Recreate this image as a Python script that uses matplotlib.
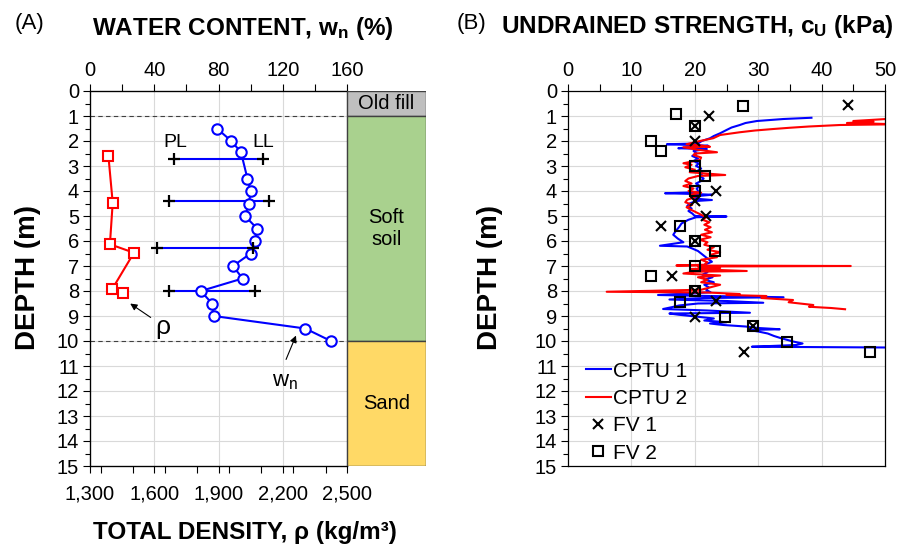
import matplotlib
matplotlib.use('Agg')
import matplotlib.pyplot as plt
from matplotlib.ticker import MultipleLocator, FixedLocator, StrMethodFormatter

plt.rcParams['font.family'] = ['Liberation Sans', 'DejaVu Sans']
plt.rcParams['mathtext.fontset'] = 'custom'
plt.rcParams['mathtext.rm'] = 'Liberation Sans'
plt.rcParams['mathtext.it'] = 'Liberation Sans'
plt.rcParams['mathtext.bf'] = 'Liberation Sans:bold'

# Water content profile (%)
wn_depth = [1.5, 2.0, 2.45, 3.5, 4.0, 4.5, 5.0, 5.5, 6.0, 6.5, 7.0, 7.5, 8.0, 8.5, 9.0, 9.5, 10.0]
wn_value = [79, 88, 94, 98, 100, 99, 96.5, 104, 103, 100, 89, 95, 69, 76, 77, 134, 150]

# Atterberg limits (%)
limit_depth = [2.7, 4.4, 6.27, 8.0]
plastic_limit = [52, 49, 41.5, 49]
liquid_limit = [107.5, 111.5, 101.7, 102.7]

# Total density (kg/m3)
rho_depth = [2.6, 4.47, 6.13, 6.47, 7.92, 8.09]
rho_value = [1386, 1406, 1393, 1505, 1404, 1456]
rho_ticks = [1300, 1600, 1900, 2200, 2500]

# Soil layers
layer_top = [0, 1, 10]
layer_bottom = [1, 10, 15]
layer_name = ['Old fill', 'Soft\nsoil', 'Sand']
layer_color = ['#bfbfbf', '#a9d18e', '#ffd966']

# CPTU 1 undrained strength
cptu1_depth = [1.07, 1.12, 1.20, 1.28, 1.36, 1.46, 1.56, 1.69, 1.80, 1.89, 2.00, 2.10, 2.13, 2.16,
               2.19, 2.25, 2.29, 2.32, 2.40, 2.50, 2.60, 2.70, 2.80, 2.90, 3.00, 3.10, 3.20, 3.30,
               3.40, 3.50, 3.60, 3.70, 3.80, 3.90, 4.05, 4.09, 4.12, 4.15, 4.20, 4.30, 4.36, 4.40,
               4.50, 4.60, 4.70, 4.80, 4.90, 5.00, 5.02, 5.05, 5.15, 5.30, 5.45, 5.60, 5.75, 5.90,
               6.05, 6.19, 6.22, 6.30, 6.40, 6.50, 6.60, 6.70, 6.83, 6.95, 7.05, 7.15, 7.25, 7.35,
               7.45, 7.55, 7.65, 7.75, 7.85, 7.96, 8.05, 8.16, 8.19, 8.25, 8.28, 8.34, 8.40, 8.47,
               8.50, 8.58, 8.64, 8.72, 8.78, 8.87, 8.90, 8.95, 9.03, 9.10, 9.18, 9.25, 9.30, 9.36,
               9.42, 9.48, 9.53, 9.56, 9.62, 9.70, 9.80, 9.88, 9.95, 10.02, 10.10, 10.16, 10.23,
               10.26, 10.32, 10.40]
cptu1_cu = [38.4, 34.0, 29.8, 28.0, 27.1, 25.8, 25.0, 24.0, 23.0, 22.4, 21.1, 20.5, 15.6, 19.5,
            22.1, 19.0, 17.4, 21.9, 19.8, 20.3, 19.6, 20.5, 19.8, 20.6, 20.2, 21.0, 20.4, 21.2,
            20.7, 21.4, 21.0, 20.2, 20.8, 20.3, 20.6, 15.3, 20.0, 22.7, 20.5, 19.8, 22.7, 20.2,
            19.2, 18.8, 19.5, 19.0, 19.6, 20.0, 25.0, 20.2, 19.0, 17.9, 17.5, 17.0, 16.6, 17.3,
            18.2, 14.5, 18.8, 19.6, 20.5, 21.0, 21.5, 22.0, 22.7, 21.5, 22.3, 21.0, 22.0, 21.2,
            22.8, 21.5, 23.0, 21.5, 22.2, 21.8, 22.5, 14.2, 20.0, 34.0, 21.5, 16.0, 25.0, 30.8,
            20.5, 17.5, 16.5, 15.0, 22.0, 28.7, 16.0, 17.5, 20.5, 23.0, 21.5, 25.0, 22.4, 24.5,
            28.0, 30.0, 33.4, 28.5, 30.0, 31.5, 32.5, 33.5, 34.5, 35.5, 37.0, 36.0, 29.0,
            50.5, 51.0, 52.0]

# CPTU 2 undrained strength
cptu2_depth = [1.07, 1.12, 1.20, 1.23, 1.28, 1.33, 1.36, 1.42, 1.47, 1.52, 1.58, 1.65, 1.76, 1.89,
               2.00, 2.13, 2.18, 2.23, 2.25, 2.35, 2.45, 2.50, 2.56, 2.66, 2.76, 2.89, 2.95, 3.05,
               3.15, 3.25, 3.36, 3.40, 3.50, 3.60, 3.70, 3.80, 3.90, 4.00, 4.07, 4.15, 4.25, 4.35,
               4.45, 4.55, 4.65, 4.75, 4.85, 4.95, 5.05, 5.15, 5.25, 5.35, 5.45, 5.55, 5.65, 5.75,
               5.85, 5.95, 6.05, 6.15, 6.25, 6.35, 6.45, 6.55, 6.65, 6.75, 6.85, 6.95, 6.98, 7.00,
               7.02, 7.08, 7.12, 7.20, 7.23, 7.30, 7.38, 7.45, 7.55, 7.65, 7.75, 7.85, 7.95, 8.03,
               8.06, 8.12, 8.16, 8.20, 8.28, 8.36, 8.45, 8.56, 8.63, 8.68, 8.73]
cptu2_cu = [52.0, 50.2, 45.0, 48.2, 44.0, 52.0, 42.9, 38.0, 35.0, 32.4, 29.5, 27.1, 24.0, 22.9,
            20.8, 18.7, 21.0, 22.4, 18.2, 20.5, 23.5, 20.0, 19.8, 21.0, 20.8, 18.2, 19.5, 18.5,
            20.0, 19.2, 24.8, 20.5, 19.0, 18.5, 19.5, 18.2, 19.8, 19.0, 21.0, 19.2, 20.0, 18.8,
            18.5, 19.6, 18.7, 19.4, 20.2, 21.0, 21.8, 21.2, 22.3, 21.5, 22.5, 21.6, 22.7, 21.0,
            22.5, 20.8, 22.0, 21.5, 23.0, 22.0, 24.0, 22.5, 23.5, 21.0, 22.0, 21.5, 17.1, 44.6,
            20.5, 24.0, 19.5, 28.2, 20.0, 18.2, 24.0, 20.5, 22.0, 21.0, 24.0, 22.5, 21.0, 6.1,
            22.0, 27.1, 25.0, 31.3, 30.5, 35.5, 34.8, 38.7, 38.0, 41.5, 43.7]

# Field vane tests
fv1_depth = [0.55, 1.0, 1.4, 2.0, 4.0, 4.4, 5.0, 5.4, 6.0, 7.4, 8.0, 8.4, 9.05, 9.4, 10.45]
fv1_cu = [44.1, 22.3, 20.0, 20.0, 23.3, 20.0, 21.7, 14.7, 20.0, 16.4, 20.0, 23.3, 20.0, 29.2, 27.8]
fv2_depth = [0.6, 0.9, 1.4, 2.0, 2.4, 3.0, 3.4, 4.0, 5.4, 6.0, 6.4, 7.0, 7.4, 8.0, 8.45, 9.05,
             9.4, 10.05, 10.45]
fv2_cu = [27.6, 17.0, 20.0, 13.1, 14.6, 20.0, 21.6, 20.0, 17.7, 20.0, 23.2, 20.0, 13.1, 20.0,
          17.7, 24.8, 29.2, 34.6, 47.6]

fig = plt.figure(figsize=(8.99, 5.48), dpi=100)
W, H = 899, 548


def box(x0, y0, x1, y1):
    return [x0 / W, 1 - y1 / H, (x1 - x0) / W, (y1 - y0) / H]


grid_kw = dict(color='#d9d9d9', linewidth=0.8)
tick_kw = dict(direction='out', labelsize=14.5, width=0.8, colors='black')
title_size = 17.5


def depth_axis(ax):
    ax.set_ylim(15, 0)
    ax.yaxis.set_major_locator(MultipleLocator(1))
    ax.yaxis.set_minor_locator(MultipleLocator(0.5))
    ax.tick_params(axis='y', which='major', length=5, pad=3, **tick_kw)
    ax.tick_params(axis='y', which='minor', length=3.5, width=0.8)
    for s in ax.spines.values():
        s.set_linewidth(0.9)


# ---- (A) index properties ----
ax = fig.add_axes(box(90, 91, 347, 466))
depth_axis(ax)
ax.set_xlim(1300, 2500)
ax.xaxis.set_major_locator(FixedLocator(rho_ticks))
ax.xaxis.set_minor_locator(MultipleLocator(150))
ax.xaxis.set_major_formatter(StrMethodFormatter('{x:,.0f}'))
ax.tick_params(axis='x', which='major', length=5, pad=8, **tick_kw)
ax.tick_params(axis='x', which='minor', length=5, width=0.8)
for d in range(1, 15):
    ax.axhline(d, zorder=0, **grid_kw)
for x in rho_ticks[1:-1]:
    ax.axvline(x, zorder=0, **grid_kw)
for d in [1, 10]:
    ax.axhline(d, color='#404040', linestyle=(0, (4, 3)), linewidth=0.8, zorder=1)

ax.plot(rho_value, rho_depth, color='red', linewidth=1.5, marker='s', markersize=7,
        markerfacecolor='white', markeredgewidth=1.5, zorder=3)

ax_w = ax.twiny()
ax_w.set_xlim(0, 160)
ax_w.xaxis.set_major_locator(MultipleLocator(40))
ax_w.xaxis.set_minor_locator(MultipleLocator(20))
ax_w.tick_params(axis='x', which='major', length=5, pad=3, **tick_kw)
ax_w.tick_params(axis='x', which='minor', length=5, width=0.8)
ax_w.set_ylim(15, 0)

for d, pl, ll in zip(limit_depth, plastic_limit, liquid_limit):
    ax_w.plot([pl, ll], [d, d], color='blue', linewidth=1.5, zorder=2)
    ax_w.plot([pl, ll], [d, d], linestyle='none', marker='+', color='black',
              markersize=9, markeredgewidth=1.6, zorder=4)
ax_w.plot(wn_value, wn_depth, color='blue', linewidth=1.5, marker='o', markersize=7.5,
          markerfacecolor='white', markeredgewidth=1.5, zorder=3)

ax_w.text(52.9, 2.05, 'PL', fontsize=14, ha='center', va='center')
ax_w.text(107.7, 2.05, 'LL', fontsize=14, ha='center', va='center')
arrow = dict(arrowstyle='-|>', color='black', linewidth=0.8, mutation_scale=10)
ax.annotate('', xy=(1477, 8.44), xytext=(1594, 9.12), arrowprops=arrow)
ax.text(1640, 9.45, 'ρ', fontsize=19, ha='center', va='center')
ax_w.annotate('', xy=(128.9, 9.68), xytext=(121.4, 10.84), arrowprops=arrow)
ax_w.text(121.5, 11.62, r'w$_\mathrm{n}$', fontsize=16, ha='center', va='center')

# soil column
ax_s = fig.add_axes(box(347, 91, 426, 466))
ax_s.set_xlim(0, 1)
ax_s.set_ylim(15, 0)
ax_s.axis('off')
for top, bot, name, col in zip(layer_top, layer_bottom, layer_name, layer_color):
    ax_s.bar(0.5, bot - top, bottom=top, width=1, color=col, edgecolor='#404040', linewidth=1)
    ax_s.text(0.5, (top + bot) / 2, name, fontsize=14.5, ha='center', va='center',
              linespacing=1.2)

fig.text(30 / W, 1 - 24 / H, '(A)', fontsize=16, ha='center', va='center')
fig.text(243 / W, 1 - 28 / H, r'WATER CONTENT, w$_\mathbf{n}$ (%)', fontsize=title_size,
         fontweight='bold', ha='center', va='center')
fig.text(245 / W, 1 - 533 / H, 'TOTAL DENSITY, ρ (kg/m³)', fontsize=title_size,
         fontweight='bold', ha='center', va='center')
fig.text(28 / W, 1 - 277 / H, 'DEPTH (m)', fontsize=20, fontweight='bold',
         rotation=90, ha='center', va='center')

# ---- (B) undrained shear strength ----
ax_b = fig.add_axes(box(568, 91, 885, 466))
depth_axis(ax_b)
ax_b.set_xlim(0, 50)
ax_b.xaxis.tick_top()
ax_b.xaxis.set_major_locator(MultipleLocator(10))
ax_b.xaxis.set_minor_locator(MultipleLocator(5))
ax_b.tick_params(axis='x', which='major', length=5, pad=3, **tick_kw)
ax_b.tick_params(axis='x', which='minor', length=5, width=0.8)
for d in range(1, 15):
    ax_b.axhline(d, zorder=0, **grid_kw)
for x in range(10, 50, 10):
    ax_b.axvline(x, zorder=0, **grid_kw)

ax_b.plot(cptu1_cu, cptu1_depth, color='blue', linewidth=1.5, label='CPTU 1', zorder=2)
ax_b.plot(cptu2_cu, cptu2_depth, color='red', linewidth=1.5, label='CPTU 2', zorder=2)
ax_b.plot(fv1_cu, fv1_depth, linestyle='none', marker='x', color='black', markersize=7,
          markeredgewidth=1.5, label='FV 1', zorder=4)
ax_b.plot(fv2_cu, fv2_depth, linestyle='none', marker='s', color='black', markersize=7,
          markerfacecolor='none', markeredgewidth=1.5, label='FV 2', zorder=4)
ax_b.legend(loc='lower left', bbox_to_anchor=(0.01, -0.03), frameon=False, fontsize=15,
            handlelength=1.2, handletextpad=0.1, labelspacing=0.4, borderaxespad=0.3)

fig.text(471 / W, 1 - 24 / H, '(B)', fontsize=16, ha='center', va='center')
fig.text(697 / W, 1 - 27 / H, r'UNDRAINED STRENGTH, c$_\mathbf{U}$ (kPa)', fontsize=title_size,
         fontweight='bold', ha='center', va='center')
fig.text(490 / W, 1 - 277 / H, 'DEPTH (m)', fontsize=20, fontweight='bold',
         rotation=90, ha='center', va='center')

fig.savefig('out.png', dpi=100)
